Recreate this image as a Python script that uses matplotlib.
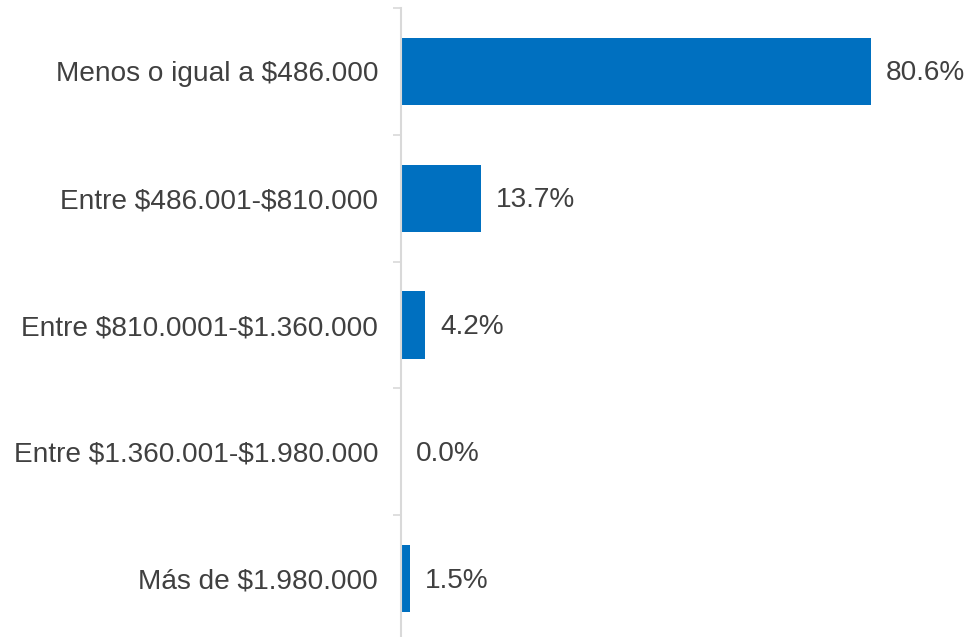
import matplotlib
matplotlib.use("Agg")
import matplotlib.pyplot as plt

categories = ["Menos o igual a $486.000", "Entre $486.001-$810.000",
              "Entre $810.0001-$1.360.000", "Entre $1.360.001-$1.980.000",
              "Más de $1.980.000"]
values = [80.6, 13.7, 4.2, 0.0, 1.5]
value_labels = ["80.6%", "13.7%", "4.2%", "0.0%", "1.5%"]

plt.rcParams['font.family'] = ['Liberation Sans', 'DejaVu Sans']
plt.rcParams['text.parse_math'] = False
W, H = 971, 637
fig = plt.figure(figsize=(W/100, H/100), dpi=100)
ax_left, ax_top, ax_bottom = 401, 8, 642
ax = fig.add_axes([ax_left/W, (H-ax_bottom)/H, (W-ax_left)/W, (ax_bottom-ax_top)/H])

bar_color = "#0070C0"
text_color = "#404040"
fs = 20.2
n = len(categories)
ys = list(range(n))
ax.barh(ys, values, height=0.53, color=bar_color, zorder=2)
ax.set_ylim(n-0.5, -0.5)
ax.set_xlim(0, (W-ax_left)/(470/80.6))

for y, v, lab in zip(ys, values, value_labels):
    ax.annotate(lab, (v, y), xytext=(15, -2), textcoords='offset pixels',
                va='center', ha='left', fontsize=fs, color=text_color)

ax.set_yticks([i-0.5 for i in range(n+1)])
ax.set_yticklabels([])
ax.set_yticks(ys, minor=True)
ax.set_yticklabels(categories, minor=True, fontsize=fs, color=text_color)
ax.tick_params(axis='y', which='major', length=6, color='#D9D9D9', width=1.2)
ax.tick_params(axis='y', which='minor', length=0, pad=16.5)
ax.set_xticks([])
for s in ['top', 'right', 'bottom']:
    ax.spines[s].set_visible(False)
ax.spines['left'].set_color('#D9D9D9')
ax.spines['left'].set_linewidth(1.5)

fig.savefig("out.png", dpi=100)
